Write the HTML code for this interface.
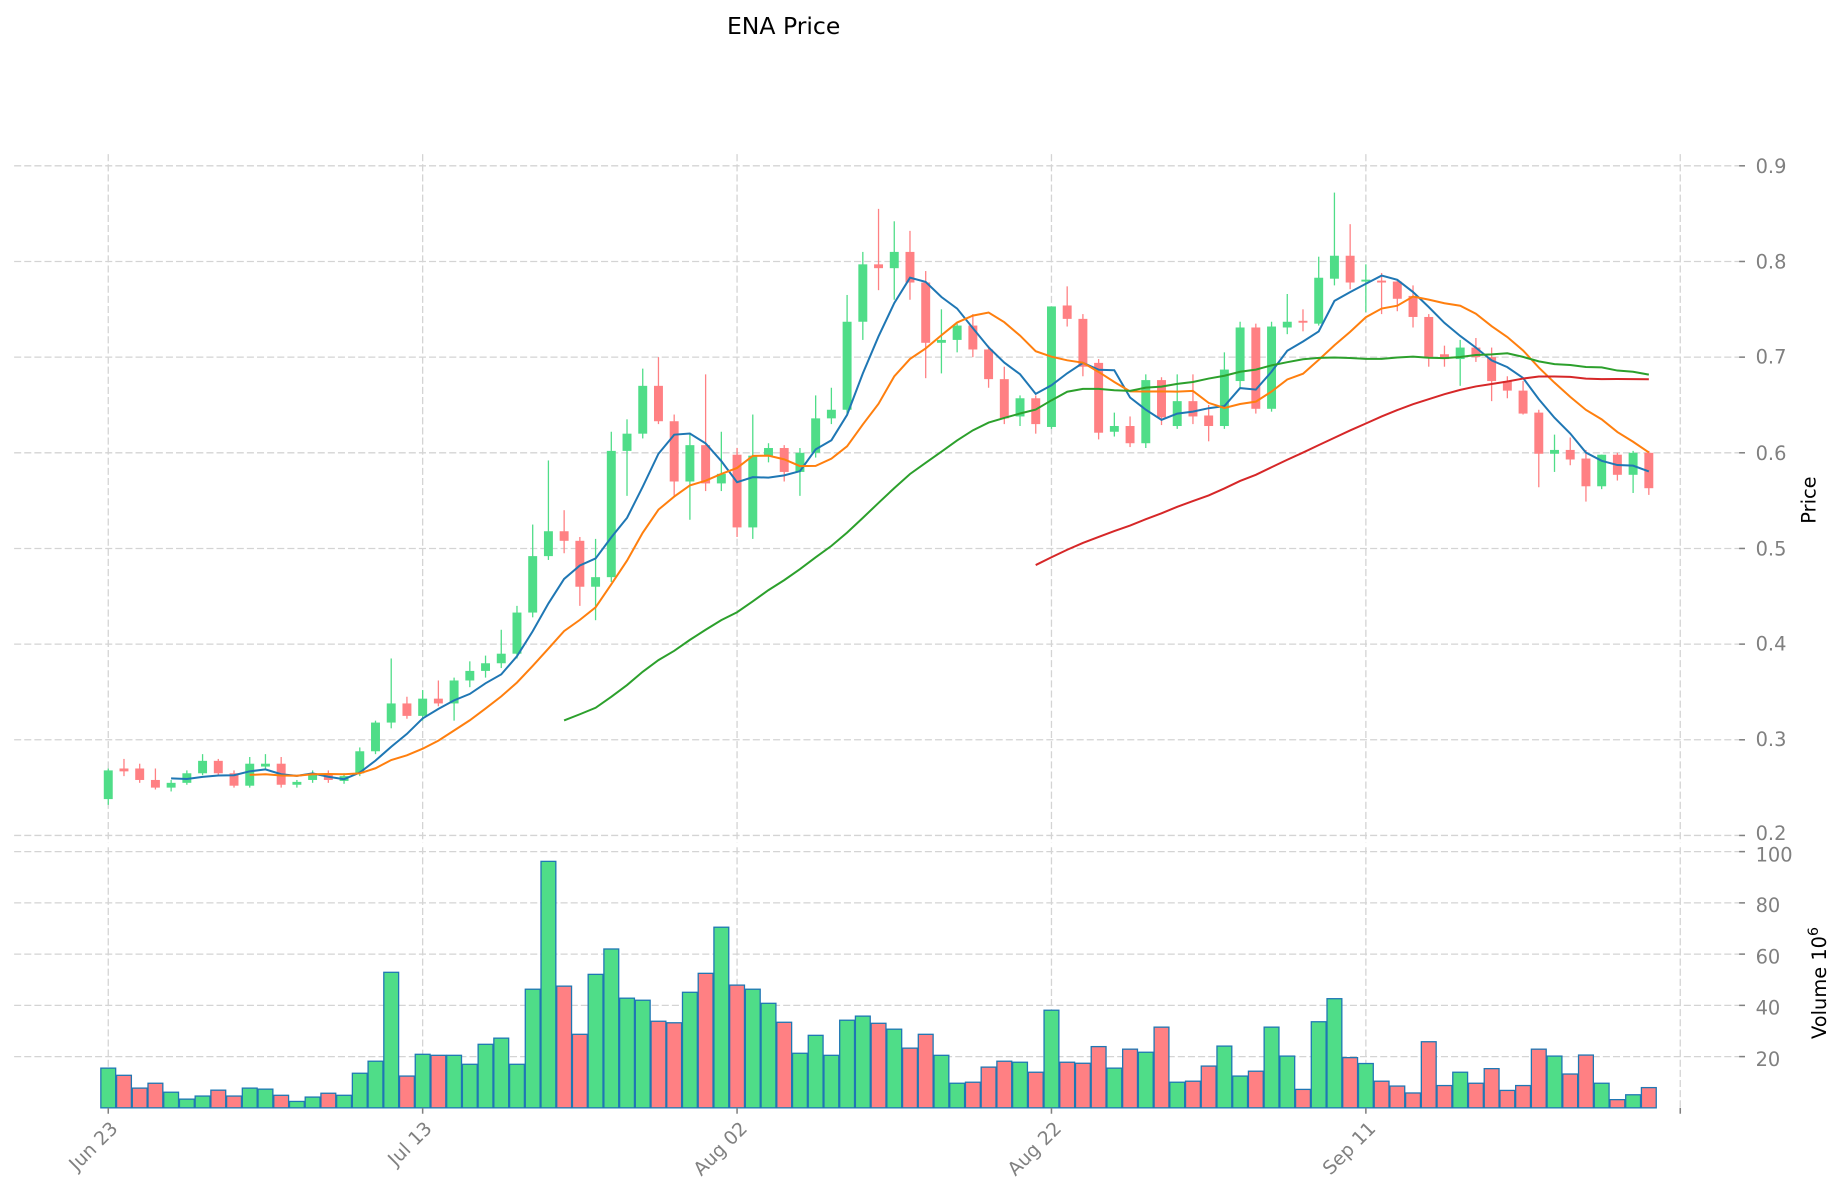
<!DOCTYPE html>
<html><head><meta charset="utf-8"><style>
html,body{margin:0;padding:0;background:#fff;}
svg{display:block;}
text{font-family:"DejaVu Sans","Liberation Sans",sans-serif;}
</style></head><body>
<svg id="c" width="1845" height="1202" viewBox="0 0 1568 1021.5" xmlns="http://www.w3.org/2000/svg">
<rect x="0" y="0" width="1568" height="1021.5" fill="#fff"/>
<g id="grid"></g>
<g id="vol"></g>
<g id="cand"></g>
<g id="ma"></g>
<g id="axes"></g>
<text x="666" y="29" font-size="20" text-anchor="middle" fill="#000">ENA Price</text>
<text transform="translate(1543,425) rotate(-90)" font-size="16.5" text-anchor="middle" fill="#000">Price</text>
<text transform="translate(1552,883) rotate(-90)" font-size="16.5" fill="#000">Volume  10<tspan dy="-7" font-size="12">6</tspan></text>
<g font-size="16.5" fill="#808080">
<text x="1492" y="147">0.9</text>
<text x="1492" y="228">0.8</text>
<text x="1492" y="309">0.7</text>
<text x="1492" y="391">0.6</text>
<text x="1492" y="472">0.5</text>
<text x="1492" y="553">0.4</text>
<text x="1492" y="634">0.3</text>
<text x="1492" y="714">0.2</text>
<text x="1492" y="732">100</text>
<text x="1492" y="775">80</text>
<text x="1492" y="819">60</text>
<text x="1492" y="862">40</text>
<text x="1492" y="906">20</text>
</g>
<g font-size="16" fill="#808080" text-anchor="end">
<text transform="translate(101,960) rotate(-45)">Jun 23</text>
<text transform="translate(368,960) rotate(-45)">Jul 13</text>
<text transform="translate(636,960) rotate(-45)">Aug 02</text>
<text transform="translate(903,960) rotate(-45)">Aug 22</text>
<text transform="translate(1170,960) rotate(-45)">Sep 11</text>
</g>
</svg>
<script>
var D=[
[.238,.270,.232,.268,15.5],[.270,.280,.262,.267,12.7],[.270,.275,.255,.258,7.7],[.258,.270,.248,.250,9.6],
[.250,.258,.246,.255,6.1],[.255,.268,.253,.265,3.4],[.265,.285,.263,.278,4.6],[.278,.280,.263,.265,6.9],
[.265,.268,.250,.252,4.6],[.252,.282,.250,.275,7.7],[.272,.285,.268,.275,7.3],[.275,.282,.250,.253,4.9],
[.253,.258,.250,.256,2.5],[.258,.268,.255,.265,4.2],[.264,.268,.255,.258,5.7],[.257,.265,.254,.262,4.9],
[.265,.292,.262,.288,13.5],[.288,.320,.285,.318,18.2],[.318,.385,.312,.338,52.9],[.338,.345,.322,.325,12.4],
[.325,.352,.320,.343,20.9],[.343,.362,.335,.338,20.5],[.338,.365,.320,.362,20.5],[.362,.382,.355,.372,17],
[.372,.388,.365,.380,24.8],[.380,.415,.375,.390,27.2],[.390,.440,.385,.433,17],[.433,.525,.428,.492,46.3],
[.492,.592,.488,.518,96.2],[.518,.540,.495,.508,47.5],[.508,.512,.440,.460,28.7],[.460,.510,.425,.470,52.1],
[.470,.622,.465,.602,62],[.602,.635,.555,.620,42.8],[.620,.688,.615,.670,42],[.670,.700,.630,.633,33.8],
[.633,.640,.555,.570,33.2],[.570,.620,.530,.608,45.1],[.608,.682,.560,.568,52.5],[.568,.622,.560,.578,70.5],
[.598,.605,.512,.522,47.9],[.522,.640,.510,.597,46.3],[.597,.610,.590,.605,40.8],[.605,.608,.570,.580,33.4],
[.580,.605,.555,.600,21.3],[.600,.660,.595,.636,28.3],[.636,.668,.630,.645,20.5],[.645,.765,.640,.737,34.2],
[.737,.810,.718,.797,35.8],[.797,.855,.770,.793,33],[.793,.842,.760,.810,30.7],[.810,.832,.760,.778,23.3],
[.778,.790,.678,.715,28.7],[.715,.750,.683,.718,20.5],[.718,.735,.705,.733,9.6],[.733,.745,.700,.708,10],
[.708,.712,.668,.677,15.9],[.677,.690,.630,.636,18.2],[.638,.660,.628,.657,17.8],[.657,.660,.620,.630,13.9],
[.627,.753,.625,.753,38.1],[.754,.774,.732,.740,17.8],[.740,.745,.680,.690,17.4],[.694,.698,.614,.621,23.9],
[.622,.642,.617,.628,15.5],[.628,.638,.606,.610,22.9],[.610,.682,.605,.676,21.7],[.676,.679,.629,.637,31.5],
[.628,.682,.625,.654,10],[.654,.682,.630,.638,10.4],[.639,.650,.612,.628,16.3],[.628,.705,.625,.687,24.1],
[.675,.737,.667,.731,12.4],[.731,.735,.641,.646,14.3],[.646,.737,.643,.732,31.5],[.731,.766,.724,.737,20.2],
[.738,.750,.727,.736,7.2],[.735,.805,.733,.783,33.6],[.782,.872,.775,.806,42.6],[.806,.839,.771,.778,19.6],
[.779,.797,.747,.781,17.3],[.780,.788,.745,.778,10.4],[.779,.780,.748,.761,8.5],[.764,.775,.731,.742,5.8],
[.742,.745,.690,.700,25.8],[.703,.712,.690,.698,8.7],[.698,.718,.670,.710,13.9],[.710,.720,.695,.700,9.6],
[.700,.710,.654,.675,15.3],[.675,.680,.657,.665,6.8],[.665,.675,.640,.641,8.7],[.642,.645,.564,.599,22.9],
[.599,.619,.580,.603,20.2],[.603,.616,.587,.593,13.2],[.594,.603,.549,.565,20.6],[.565,.598,.562,.598,9.6],
[.598,.600,.571,.577,3.2],[.577,.602,.558,.600,5.1],[.600,.602,.556,.563,7.9]];
var NS="http://www.w3.org/2000/svg";
function el(p,t,a){var e=document.createElementNS(NS,t);for(var k in a)e.setAttribute(k,a[k]);document.getElementById(p).appendChild(e);return e;}
function X(i){return 92+13.36*i;}
function Y(p){return 710-(p-0.2)*813;}
function V(v){return 941.5-v*2.1775;}
var G="#4fdd88",R="#ff8083";
var hp=[.9,.8,.7,.6,.5,.4,.3,.2];
hp.forEach(function(p){var y=Y(p);el("grid","line",{x1:12,x2:1478,y1:y,y2:y,stroke:"#d4d4d4","stroke-width":1.1,"stroke-dasharray":"6,2.6"});el("axes","line",{x1:1478,x2:1483,y1:y,y2:y,stroke:"#808080","stroke-width":1.3});});
[100,80,60,40,20].forEach(function(v){var y=V(v);el("grid","line",{x1:12,x2:1478,y1:y,y2:y,stroke:"#d4d4d4","stroke-width":1.1,"stroke-dasharray":"6,2.6"});el("axes","line",{x1:1478,x2:1483,y1:y,y2:y,stroke:"#808080","stroke-width":1.3});});
[92,359.2,626.4,893.6,1160.8,1428].forEach(function(x){
el("grid","line",{x1:x,x2:x,y1:131,y2:716,stroke:"#d4d4d4","stroke-width":1.1,"stroke-dasharray":"6,2.6"});
el("grid","line",{x1:x,x2:x,y1:720,y2:941,stroke:"#d4d4d4","stroke-width":1.1,"stroke-dasharray":"6,2.6"});
el("axes","line",{x1:x,x2:x,y1:941.5,y2:946.5,stroke:"#808080","stroke-width":1.3});});
D.forEach(function(d,i){var up=d[3]>=d[0];var c=up?G:R;var x=X(i);
el("vol","rect",{x:x-6.3,y:V(d[4]),width:12.6,height:941.5-V(d[4]),fill:c,stroke:"#1f77b4","stroke-width":1.1});
el("cand","line",{x1:x,x2:x,y1:Y(d[1]),y2:Y(d[2]),stroke:c,"stroke-width":1.1});
var t=Y(Math.max(d[0],d[3])),b=Y(Math.min(d[0],d[3]));if(b-t<1.5){t-=0.75;b+=0.75;}
el("cand","rect",{x:x-3.8,y:t,width:7.6,height:b-t,fill:c});});
[[5,"#1f77b4"],[10,"#ff7f0e"],[30,"#2ca02c"],[60,"#d62728"]].forEach(function(m){var n=m[0],pts=[];
for(var i=n-1;i<D.length;i++){var s=0;for(var j=i-n+1;j<=i;j++)s+=D[j][3];pts.push(X(i).toFixed(1)+","+Y(s/n).toFixed(1));}
el("ma","polyline",{points:pts.join(" "),fill:"none",stroke:m[1],"stroke-width":1.7});});
</script>
</body></html>
